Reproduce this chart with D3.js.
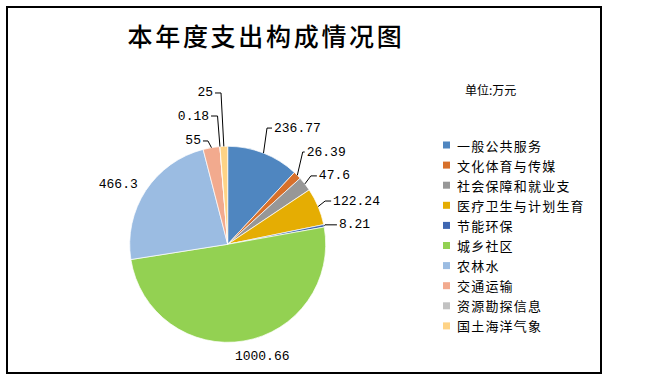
<!DOCTYPE html>
<html>
<head>
<meta charset="utf-8">
<script src="https://cdn.jsdelivr.net/npm/d3@7"></script>
<style>
  body { margin: 0; background: #fff; }
  svg { display: block; }
</style>
</head>
<body>
<div id="chart"></div>
<script>
const categories = ['一般公共服务', '文化体育与传媒', '社会保障和就业支', '医疗卫生与计划生育', '节能环保', '城乡社区', '农林水', '交通运输', '资源勘探信息', '国土海洋气象']
const values = [236.77, 26.39, 47.6, 122.24, 8.21, 1000.66, 466.3, 55, 0.18, 25]
const valueLabels = ['236.77', '26.39', '47.6', '122.24', '8.21', '1000.66', '466.3', '55', '0.18', '25']
const colors = ['#4f86c0', '#d7702b', '#979797', '#e5ad03', '#3f67b2', '#93d152', '#9bbce2', '#f2aa8e', '#c2c2c2', '#fed386']

// label layout: knee offset from the slice edge, gap to text, side
const labelLayout = [
    {kx: 3.5, ky: -25, tx: 7, side: 1, line: true},
    {kx: 5.4, ky: -23.3, tx: 4, side: 1, line: true},
    {kx: 6, ky: -8, tx: 8, side: 1, line: true},
    {kx: 7, ky: -5.5, tx: 8, side: 1, line: true},
    {kx: 1, ky: -1, tx: 14, side: 1, line: true},
    {kx: -9, ky: 16, tx: 0, side: 1, line: false},
    {kx: -8, ky: -6.5, tx: 0, side: -1, line: false},
    {kx: -3.5, ky: -6.7, tx: 7, side: -1, line: true},
    {kx: -2.4, ky: -30.6, tx: 8.5, side: -1, line: true},
    {kx: -2.8, ky: -53.4, tx: 8, side: -1, line: true}
]

const width = 650
const height = 383
const cx = 227.7
const cy = 244.3
const radius = 98

const svg = d3.select('#chart').append('svg')
    .attr('width', width)
    .attr('height', height)

svg.append('rect')
    .attr('x', 7).attr('y', 7)
    .attr('width', 594).attr('height', 366)
    .attr('fill', 'none')
    .attr('stroke', '#000')
    .attr('stroke-width', 2)

svg.append('text')
    .attr('x', 266).attr('y', 35)
    .attr('text-anchor', 'middle')
    .attr('dominant-baseline', 'central')
    .style('font-family', '"Noto Sans CJK SC"')
    .style('font-size', '25px')
    .style('font-weight', '500')
    .style('letter-spacing', '2.7px')
    .text('本年度支出构成情况图')

svg.append('text')
    .attr('x', 465).attr('y', 89)
    .attr('dominant-baseline', 'central')
    .style('font-family', '"Noto Sans CJK SC"')
    .style('font-size', '12px')
    .text('单位:万元')

const data = categories.map((c, i) => ({name: c, value: values[i], label: valueLabels[i], color: colors[i], layout: labelLayout[i]}))

const pie = d3.pie().sort(null).value(d => d.value)
const arc = d3.arc().innerRadius(0).outerRadius(radius)
const arcs = pie(data)

const g = svg.append('g').attr('transform', `translate(${cx},${cy})`)

g.selectAll('path')
    .data(arcs)
    .join('path')
    .attr('d', arc)
    .attr('fill', d => d.data.color)
    .attr('stroke', '#fff')
    .attr('stroke-width', 0.7)

const edgePoint = d => {
    const a = (d.startAngle + d.endAngle) / 2
    return [radius * Math.sin(a), -radius * Math.cos(a)]
}

arcs.forEach(d => {
    const L = d.data.layout
    const [px, py] = edgePoint(d)
    const kx = px + L.kx
    const ky = py + L.ky
    if (L.line) {
        g.append('polyline')
            .attr('points', [[px, py], [kx, ky], [kx + L.side * (L.tx - 2), ky]].map(p => p.join(',')).join(' '))
            .attr('fill', 'none')
            .attr('stroke', '#000')
            .attr('stroke-width', 1)
    }
    g.append('text')
        .attr('x', kx + L.side * L.tx)
        .attr('y', ky)
        .attr('text-anchor', L.side > 0 ? 'start' : 'end')
        .attr('dominant-baseline', 'central')
        .style('font-family', '"Liberation Mono", monospace')
        .style('font-size', '13px')
        .text(d.data.label)
})

const legend = svg.append('g').attr('transform', 'translate(443,145)')

const rows = legend.selectAll('g')
    .data(data)
    .join('g')
    .attr('transform', (d, i) => `translate(0,${i * 20.1})`)

rows.append('rect')
    .attr('x', 0).attr('y', -3.5)
    .attr('width', 7).attr('height', 7)
    .attr('fill', d => d.color)

rows.append('text')
    .attr('x', 14).attr('y', 0)
    .attr('dominant-baseline', 'central')
    .style('font-family', '"Noto Sans CJK SC"')
    .style('font-size', '13px')
    .style('letter-spacing', '1.2px')
    .text(d => d.name)
</script>
</body>
</html>
